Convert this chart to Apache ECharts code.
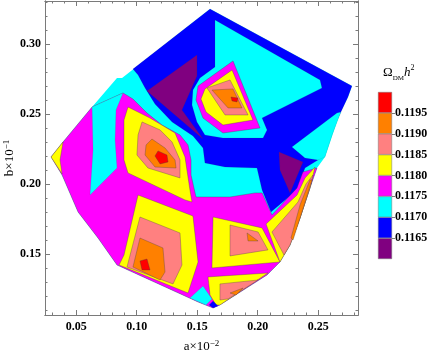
<!DOCTYPE html>
<html>
<head>
<meta charset="utf-8">
<script src="https://cdn.jsdelivr.net/npm/echarts@6/dist/echarts.min.js"></script>
<style>
  html, body { margin: 0; padding: 0; background: #fff; }
  #chart { width: 437px; height: 356px; }
</style>
</head>
<body>
<div id="chart"></div>
<script>
// contour levels of Omega_DM h^2 and the colour of each band (lowest first)
var levels = [0.1165, 0.1170, 0.1175, 0.1180, 0.1185, 0.1190, 0.1195];
var bandColors = ['#800080', '#0000ff', '#00ffff', '#ff00ff', '#ffff00', '#ff8080', '#ff8000', '#ff0000'];

// tick values
var xMajor = [0.05, 0.10, 0.15, 0.20, 0.25];
var xMinor = [0.03, 0.04, 0.06, 0.07, 0.08, 0.09, 0.11, 0.12, 0.13, 0.14, 0.16, 0.17, 0.18, 0.19, 0.21, 0.22, 0.23, 0.24, 0.26, 0.27, 0.28];
var yMajor = [0.15, 0.20, 0.25, 0.30];
var yMinor = [0.11, 0.12, 0.13, 0.14, 0.16, 0.17, 0.18, 0.19, 0.21, 0.22, 0.23, 0.24, 0.26, 0.27, 0.28, 0.29, 0.31, 0.32, 0.33];

// contour regions, [a, b] vertices
var domain = [[0.1606,0.3250],[0.2779,0.2700],[0.2746,0.2621],[0.2680,0.2507],[0.2556,0.2193],[0.2490,0.2114],[0.2432,0.1971],[0.2350,0.1757],[0.2267,0.1564],[0.2184,0.1443],[0.2077,0.1350],[0.1688,0.1136],[0.1631,0.1114],[0.1507,0.1157],[0.0837,0.1421],[0.0680,0.1614],[0.0515,0.1800],[0.0383,0.2064],[0.0292,0.2193],[0.0391,0.2300],[0.0631,0.2550],[0.0837,0.2757],[0.0879,0.2757]];
var blueBand = [[0.0969,0.2821],[0.1606,0.3250],[0.2779,0.2700],[0.2746,0.2621],[0.2688,0.2514],[0.2498,0.2171],[0.2391,0.2114],[0.2325,0.1957],[0.2110,0.1800],[0.2036,0.1957],[0.1994,0.2114],[0.1730,0.2121],[0.1564,0.2150],[0.1548,0.2257],[0.1465,0.2343],[0.1292,0.2443],[0.1151,0.2571],[0.1069,0.2686],[0.1011,0.2779]];
var cyanUpper = [[0.1647,0.3171],[0.2515,0.2743],[0.2531,0.2686],[0.2036,0.2471],[0.2077,0.2386],[0.2044,0.2329],[0.1713,0.2329],[0.1564,0.2350],[0.1498,0.2443],[0.1457,0.2564],[0.1465,0.2671],[0.1523,0.2757],[0.1647,0.2836]];
var cyanRight = [[0.2283,0.2264],[0.2655,0.2507],[0.2688,0.2514],[0.2614,0.2350],[0.2556,0.2193],[0.2498,0.2171],[0.2391,0.2186]];
var purpleLeft = [[0.1085,0.2664],[0.1498,0.2921],[0.1498,0.2771],[0.1374,0.2529],[0.1548,0.2321]];
var purpleRight = [[0.2176,0.2229],[0.2374,0.2157],[0.2267,0.1936],[0.2184,0.2100]];
var magentaLow = [[0.0292,0.2193],[0.0391,0.2300],[0.0631,0.2550],[0.0887,0.2650],[0.0969,0.2607],[0.1085,0.2507],[0.1209,0.2421],[0.1358,0.2350],[0.1424,0.2279],[0.1449,0.2171],[0.1449,0.2064],[0.1490,0.1907],[0.1771,0.1907],[0.1978,0.1936],[0.2036,0.1936],[0.2118,0.1779],[0.2325,0.1971],[0.2374,0.2086],[0.2490,0.2114],[0.2432,0.1971],[0.2350,0.1757],[0.2267,0.1564],[0.2184,0.1443],[0.2077,0.1350],[0.1688,0.1136],[0.1631,0.1114],[0.1507,0.1157],[0.0837,0.1421],[0.0680,0.1614],[0.0515,0.1800],[0.0383,0.2064]];
var cyanStrip = [[0.0631,0.2550],[0.0887,0.2650],[0.0829,0.2529],[0.0821,0.2314],[0.0837,0.2114],[0.0614,0.1921],[0.0639,0.2243]];
var cyanFoot = [[0.1440,0.1186],[0.1548,0.1271],[0.1622,0.1179],[0.1573,0.1136]];
var blueFoot = [[0.1598,0.1136],[0.1631,0.1164],[0.1672,0.1129],[0.1631,0.1114]];
var yellowCorner = [[0.0292,0.2193],[0.0391,0.2300],[0.0366,0.2171],[0.0383,0.2071]];

var peakRm = [[0.1796,0.2879],[0.2019,0.2400],[0.1713,0.2364],[0.1548,0.2471],[0.1490,0.2600],[0.1507,0.2700]];
var peakRy = [[0.1788,0.2814],[0.1961,0.2457],[0.1713,0.2421],[0.1573,0.2514],[0.1531,0.2607],[0.1564,0.2679]];
var peakRs = [[0.1771,0.2743],[0.1920,0.2493],[0.1730,0.2493],[0.1581,0.2686]];
var peakRo = [[0.1622,0.2671],[0.1796,0.2679],[0.1870,0.2543],[0.1755,0.2543]];
var peakRr = [[0.1779,0.2621],[0.1837,0.2614],[0.1829,0.2586],[0.1788,0.2593]];

var peakLy = [[0.0928,0.2550],[0.1110,0.2471],[0.1317,0.2364],[0.1399,0.2193],[0.1440,0.1957],[0.1457,0.1871],[0.1399,0.1886],[0.0928,0.2079],[0.0895,0.2171],[0.0895,0.2457]];
var peakLs = [[0.1044,0.2443],[0.1193,0.2386],[0.1292,0.2300],[0.1358,0.2171],[0.1358,0.2043],[0.1093,0.2114],[0.1002,0.2207],[0.1011,0.2350]];
var peakLo = [[0.1126,0.2321],[0.1234,0.2257],[0.1317,0.2171],[0.1325,0.2114],[0.1151,0.2121],[0.1069,0.2207],[0.1077,0.2279]];
var peakLr = [[0.1176,0.2236],[0.1250,0.2207],[0.1259,0.2157],[0.1193,0.2143],[0.1151,0.2200]];

var lowLy = [[0.1011,0.1921],[0.1465,0.1771],[0.1507,0.1443],[0.1424,0.1221],[0.0854,0.1421],[0.0895,0.1493]];
var lowLs = [[0.1027,0.1764],[0.1358,0.1650],[0.1374,0.1421],[0.1300,0.1286],[0.0920,0.1407]];
var lowLo = [[0.1027,0.1614],[0.1217,0.1543],[0.1234,0.1371],[0.1193,0.1314],[0.0969,0.1407]];
var lowLr = [[0.1027,0.1450],[0.1085,0.1464],[0.1110,0.1386],[0.1044,0.1386]];

var midRy = [[0.1631,0.1764],[0.2036,0.1686],[0.2184,0.1443],[0.1622,0.1400]];
var midRs = [[0.1771,0.1707],[0.2003,0.1657],[0.2085,0.1529],[0.1771,0.1486]];
var midRo = [[0.1912,0.1650],[0.2003,0.1593],[0.1920,0.1593]];

var edgeY = [[0.2069,0.1714],[0.2325,0.1921],[0.2391,0.2043],[0.2474,0.2121],[0.2432,0.1971],[0.2350,0.1757],[0.2267,0.1564],[0.2184,0.1443]];
var edgeS = [[0.2118,0.1657],[0.2333,0.1871],[0.2399,0.2000],[0.2457,0.2064],[0.2432,0.1971],[0.2350,0.1757],[0.2267,0.1564],[0.2217,0.1493]];
var edgeO = [[0.2275,0.1614],[0.2350,0.1850],[0.2432,0.2029],[0.2449,0.2029],[0.2350,0.1757],[0.2292,0.1600]];

var footY = [[0.1589,0.1336],[0.2085,0.1364],[0.1688,0.1136],[0.1655,0.1136],[0.1606,0.1207]];
var footS = [[0.1688,0.1286],[0.2003,0.1314],[0.1755,0.1179],[0.1688,0.1171]];
var footO = [[0.1771,0.1221],[0.1879,0.1257],[0.1821,0.1207]];

// drawing order: region, band index
var layers = [
  [domain, 2], [blueBand, 1], [cyanUpper, 2], [cyanRight, 2], [purpleLeft, 0], [purpleRight, 0],
  [magentaLow, 3], [cyanStrip, 2], [cyanFoot, 2], [yellowCorner, 4],
  [peakRm, 3], [peakRy, 4], [peakRs, 5], [peakRo, 6], [peakRr, 7],
  [peakLy, 4], [peakLs, 5], [peakLo, 6], [peakLr, 7],
  [lowLy, 4], [lowLs, 5], [lowLo, 6], [lowLr, 7],
  [midRy, 4], [midRs, 5], [midRo, 6],
  [edgeY, 4], [edgeS, 5], [edgeO, 6],
  [footY, 4], [footS, 5], [footO, 6],
  [blueFoot, 1]
];

var xMin = 0.0242, xMax = 0.2829, yMin = 0.1064, yMax = 0.3307;
var serif = 'Liberation Serif';
var frame = '#7a7a7a';

function xAxisOf(pos, ticks, len, withLabels) {
  return {
    type: 'value', gridIndex: 0, min: xMin, max: xMax, position: pos,
    axisLine: { show: true, onZero: false, lineStyle: { color: frame, width: 1 } },
    axisTick: { show: true, inside: true, length: len, customValues: ticks, lineStyle: { color: frame } },
    axisLabel: withLabels ? {
      customValues: ticks, margin: 6, color: '#000', fontFamily: serif, fontWeight: 'bold', fontSize: 12,
      formatter: function (v) { return v.toFixed(2); }
    } : { show: false },
    splitLine: { show: false }
  };
}
function yAxisOf(pos, ticks, len, withLabels) {
  return {
    type: 'value', gridIndex: 0, min: yMin, max: yMax, position: pos,
    axisLine: { show: true, onZero: false, lineStyle: { color: frame, width: 1 } },
    axisTick: { show: true, inside: true, length: len, customValues: ticks, lineStyle: { color: frame } },
    axisLabel: withLabels ? {
      customValues: ticks, margin: 4, color: '#000', fontFamily: serif, fontWeight: 'bold', fontSize: 12,
      formatter: function (v) { return v.toFixed(2); }
    } : { show: false },
    splitLine: { show: false }
  };
}

var xAxes = [
  xAxisOf('bottom', xMajor, 5, true),
  xAxisOf('bottom', xMinor, 2.5, false),
  xAxisOf('top', xMajor, 5, false),
  xAxisOf('top', xMinor, 2.5, false),
  { type: 'category', gridIndex: 1, data: ['c'], show: false }
];
xAxes[0].name = 'a×10{s|−2}';
xAxes[0].nameLocation = 'middle';
xAxes[0].nameGap = 24;
xAxes[0].nameMoveOverlap = false;
xAxes[0].nameTextStyle = { color: '#000', fontFamily: serif, fontSize: 13, lineHeight: 16,
  rich: { s: { fontFamily: serif, fontSize: 9, verticalAlign: 'top', lineHeight: 9 } } };

var yAxes = [
  yAxisOf('left', yMajor, 5, true),
  yAxisOf('left', yMinor, 2.5, false),
  yAxisOf('right', yMajor, 5, false),
  yAxisOf('right', yMinor, 2.5, false),
  {
    type: 'value', gridIndex: 1, min: 0, max: 8, position: 'right',
    axisLine: { show: false },
    axisTick: { show: true, length: 3, customValues: [1, 2, 3, 4, 5, 6, 7], lineStyle: { color: frame } },
    axisLabel: { customValues: [1, 2, 3, 4, 5, 6, 7], margin: 3, color: '#000', fontFamily: serif, fontWeight: 'bold', fontSize: 12,
      formatter: function (v) { return levels[Math.round(v) - 1].toFixed(4); } },
    splitLine: { show: false }
  }
];
yAxes[0].name = 'b×10{s|−1}';
yAxes[0].nameLocation = 'middle';
yAxes[0].nameGap = 27;
yAxes[0].nameMoveOverlap = false;
yAxes[0].nameTextStyle = { color: '#000', fontFamily: serif, fontSize: 13, lineHeight: 16,
  rich: { s: { fontFamily: serif, fontSize: 9, verticalAlign: 'top', lineHeight: 9 } } };

var series = [{
  type: 'custom',
  xAxisIndex: 0, yAxisIndex: 0,
  clip: true,
  silent: true,
  encode: { x: 0, y: 1 },
  data: layers.map(function (l) { return [l[0][0][0], l[0][0][1]]; }),
  renderItem: function (params, api) {
    var l = layers[params.dataIndex];
    var pts = l[0].map(function (p) { return api.coord(p); });
    var base = params.dataIndex === 0;
    return {
      type: 'polygon',
      shape: { points: pts },
      style: {
        fill: bandColors[l[1]],
        stroke: base ? null : (l[1] >= 3 ? 'rgba(60,60,60,0.55)' : 'rgba(60,60,60,0.2)'),
        lineWidth: 0.6
      }
    };
  }
}];

// colour bar: one stacked box per band
bandColors.forEach(function (c, k) {
  series.push({
    type: 'bar', xAxisIndex: 4, yAxisIndex: 4, stack: 'bar', barWidth: '100%', silent: true,
    data: [1],
    itemStyle: { color: c, borderColor: '#777', borderWidth: 0.5 }
  });
});

var chart = echarts.init(document.getElementById('chart'));
chart.setOption({
  animation: false,
  backgroundColor: '#fff',
  grid: [
    { left: 45, top: 1, width: 313, height: 314, outerBoundsMode: 'none', containLabel: false },
    { left: 378, top: 92, width: 14, height: 167, outerBoundsMode: 'none', containLabel: false }
  ],
  xAxis: xAxes,
  yAxis: yAxes,
  graphic: [{
    type: 'text', left: 383, top: 64,
    style: {
      text: '{o|Ω}{d|DM}{h|h}{p|2}',
      rich: {
        o: { fontFamily: serif, fontSize: 13, fill: '#000', lineHeight: 18 },
        d: { fontFamily: serif, fontSize: 7, fill: '#000', verticalAlign: 'bottom', lineHeight: 7 },
        h: { fontFamily: serif, fontSize: 13, fontStyle: 'italic', fill: '#000', lineHeight: 18 },
        p: { fontFamily: serif, fontSize: 8, fill: '#000', verticalAlign: 'top', lineHeight: 8 }
      }
    }
  }],
  series: series
});
</script>
</body>
</html>
